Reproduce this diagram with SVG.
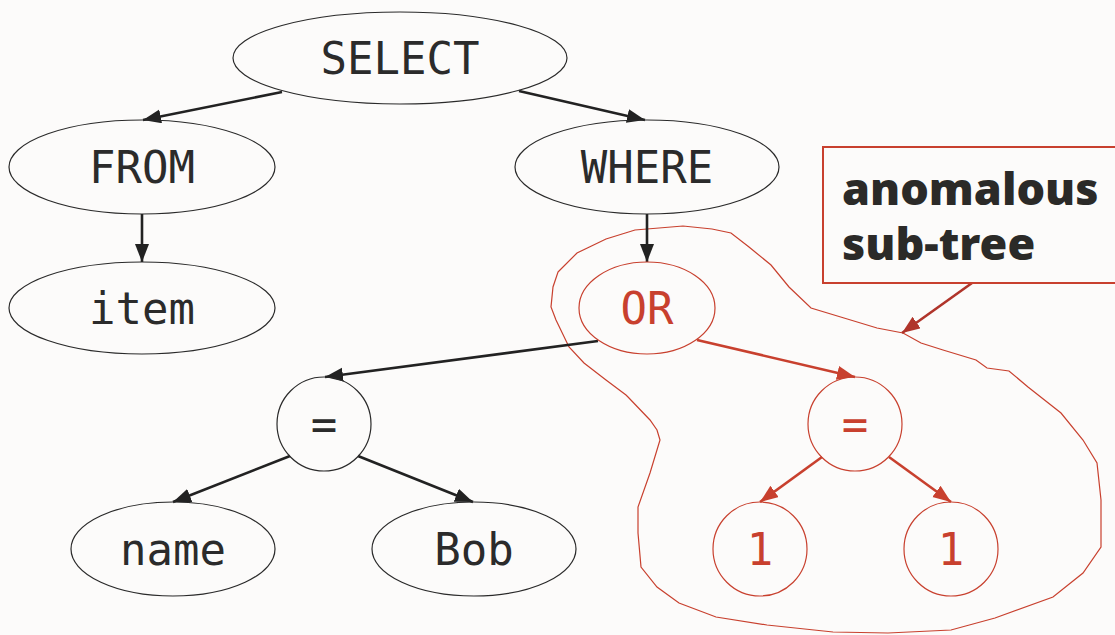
<svg xmlns="http://www.w3.org/2000/svg" width="1115" height="635" viewBox="0 0 1115 635">
<defs>
<style>
.n{fill:none;stroke:#2a2a2a;stroke-width:1.2}
.r{fill:none;stroke:#c8402e;stroke-width:1.2}
.t{font-family:"DejaVu Sans Mono",monospace;font-size:44px;fill:#2b2b2b;text-anchor:middle}
.tr{font-family:"DejaVu Sans Mono",monospace;font-size:44px;fill:#c8402e;text-anchor:middle}
.e{stroke:#222;stroke-width:2.6;fill:none}
.er{stroke:#c8402e;stroke-width:2.6;fill:none}
.c{font-family:"Noto Sans",sans-serif;font-weight:900;font-size:45px;fill:#2b2a28}
</style>
<marker id="ab" markerUnits="userSpaceOnUse" markerWidth="20" markerHeight="16" refX="18" refY="7" orient="auto"><path d="M0,0 L18,7 L0,14 z" fill="#222"/></marker>
<marker id="ar" markerUnits="userSpaceOnUse" markerWidth="20" markerHeight="16" refX="18" refY="7" orient="auto"><path d="M0,0 L18,7 L0,14 z" fill="#c8402e"/></marker>
<marker id="ad" markerUnits="userSpaceOnUse" markerWidth="20" markerHeight="16" refX="18" refY="7" orient="auto"><path d="M0,0 L18,7 L0,14 z" fill="#b0342a"/></marker>
</defs>
<rect width="1115" height="635" fill="#fcfbfa"/>
<g id="blob">
<path class="r" d="M558,272 L577,253 L606,239 L635,230 L683,226 L712,229 L731,233 L749,247 L771,265 L789,287 L811,308 L844,318 L877,328 L903,333 L921,343 L943,350 L976,360 L987,368 L1009,371 L1028,387 L1061,413 L1083,440 L1097,463 L1101,500 L1101,547 L1083,573 L1053,597 L995,618 L951,630 L888,633 L833,632 L767,625 L716,617 L679,603 L657,587 L641,567 L638,533 L638,507 L650,473 L660,440 L657,430 L650,420 L628,397 L626,395 L606,380 L584,363 L569,347 L556,320 L551,307 L553,287 Z"/>
</g>
<g id="connectors">
<line class="e" x1="282" y1="92" x2="143" y2="120" marker-end="url(#ab)"/>
<line class="e" x1="519" y1="91" x2="645" y2="120" marker-end="url(#ab)"/>
<line class="e" x1="142" y1="214" x2="142" y2="262" marker-end="url(#ab)"/>
<line class="e" x1="647" y1="214" x2="647" y2="262" marker-end="url(#ab)"/>
<line class="e" x1="598" y1="341" x2="325" y2="377" marker-end="url(#ab)"/>
<line class="e" x1="290" y1="456" x2="173" y2="502" marker-end="url(#ab)"/>
<line class="e" x1="358" y1="456" x2="473" y2="502" marker-end="url(#ab)"/>
<line class="er" x1="697" y1="340" x2="855" y2="377" marker-end="url(#ar)"/>
<line class="er" x1="822" y1="457" x2="760" y2="502" marker-end="url(#ar)"/>
<line class="er" x1="889" y1="457" x2="951" y2="502" marker-end="url(#ar)"/>
<line stroke="#b0342a" stroke-width="2.6" x1="972" y1="283" x2="902" y2="333" marker-end="url(#ad)"/>
</g>
<g id="select"><ellipse class="n" cx="400" cy="58" rx="167" ry="46"/><text class="t" x="400" y="74">SELECT</text></g>
<g id="from"><ellipse class="n" cx="142" cy="167" rx="133" ry="47"/><text class="t" x="142" y="183">FROM</text></g>
<g id="item"><ellipse class="n" cx="142" cy="308" rx="133" ry="46"/><text class="t" x="142" y="324">item</text></g>
<g id="where"><ellipse class="n" cx="647" cy="167" rx="132" ry="47"/><text class="t" x="647" y="183">WHERE</text></g>
<g id="or"><ellipse class="r" cx="647" cy="308" rx="68" ry="46"/><text class="tr" x="647" y="324">OR</text></g>
<g id="eq1"><circle class="n" cx="324" cy="424" r="47"/><text class="t" x="324" y="440">=</text></g>
<g id="eq2"><circle class="r" cx="855" cy="424" r="47"/><text class="tr" x="855" y="440">=</text></g>
<g id="name"><ellipse class="n" cx="173" cy="549" rx="102" ry="47"/><text class="t" x="173" y="565">name</text></g>
<g id="bob"><ellipse class="n" cx="474" cy="549" rx="102" ry="47"/><text class="t" x="474" y="565">Bob</text></g>
<g id="one1"><circle class="r" cx="760" cy="549" r="47"/><text class="tr" x="760" y="565">1</text></g>
<g id="one2"><circle class="r" cx="951" cy="549" r="47"/><text class="tr" x="951" y="565">1</text></g>
<g id="callout">
<rect x="823" y="147" width="310" height="136" fill="#fcfbfa" stroke="#c8402e" stroke-width="2"/>
<text class="c" x="842" y="205">anomalous</text>
<text class="c" x="842" y="260">sub-tree</text>
</g>
</svg>
